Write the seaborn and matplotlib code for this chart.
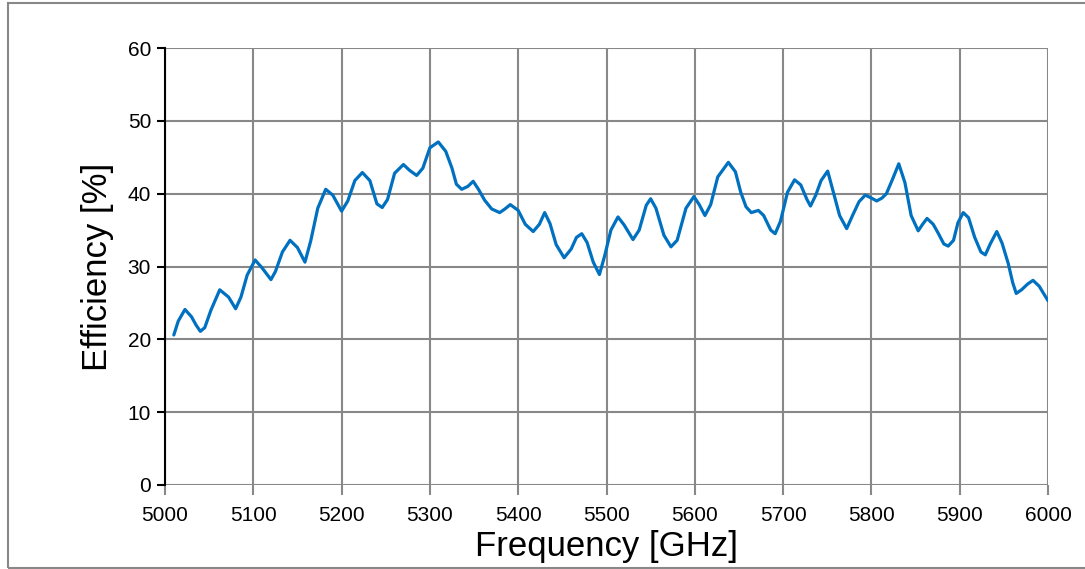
import matplotlib
matplotlib.use("Agg")
import matplotlib.pyplot as plt
import seaborn as sns
import pandas as pd
from matplotlib.patches import Rectangle

freq = [5010, 5015, 5022.6, 5030, 5035, 5040, 5045, 5052, 5062, 5072, 5080, 5086, 5093,
        5102, 5110, 5120, 5125, 5133, 5141.6, 5150, 5158.5, 5165, 5173, 5182, 5190, 5200,
        5207, 5215, 5223.5, 5232, 5240, 5246, 5252, 5260, 5270, 5277, 5285, 5292, 5300,
        5309.5, 5318, 5325, 5330, 5336, 5343, 5349, 5355, 5362, 5370, 5379, 5385, 5391,
        5400, 5408, 5417, 5424, 5430, 5436, 5443, 5452, 5460, 5466, 5472, 5478, 5485,
        5492, 5498, 5505, 5513, 5520, 5530, 5537, 5545, 5550, 5556, 5565, 5573, 5580,
        5590, 5599, 5605, 5611.5, 5618, 5626, 5638, 5646, 5652, 5658, 5664, 5672, 5678,
        5686, 5691, 5697, 5705, 5713, 5720, 5727, 5731, 5737, 5743, 5750.5, 5756, 5764,
        5772, 5779, 5786, 5793, 5800, 5806, 5812, 5817, 5824, 5831, 5838, 5845, 5853,
        5858, 5863, 5870, 5876, 5882, 5887, 5893, 5898, 5904, 5910, 5917, 5924, 5929,
        5935, 5942, 5948, 5955, 5960, 5964, 5970, 5977, 5983, 5990, 5995, 6000]
efficiency = [20.6, 22.5, 24.1, 23.1, 22.0, 21.1, 21.6, 24.0, 26.8, 25.8, 24.2, 25.8, 28.8,
              30.9, 29.8, 28.2, 29.3, 32.0, 33.6, 32.6, 30.6, 33.5, 38.0, 40.6, 39.8, 37.6,
              39.0, 41.8, 42.9, 41.8, 38.6, 38.1, 39.2, 42.8, 44.0, 43.2, 42.5, 43.5, 46.3,
              47.1, 45.8, 43.5, 41.3, 40.6, 41.0, 41.7, 40.6, 39.1, 37.9, 37.4, 37.9, 38.5,
              37.7, 35.8, 34.8, 35.8, 37.4, 35.9, 33.0, 31.2, 32.4, 34.0, 34.5, 33.3, 30.6,
              28.9, 31.5, 35.0, 36.8, 35.7, 33.7, 35.0, 38.4, 39.3, 38.0, 34.3, 32.7, 33.6,
              38.0, 39.6, 38.5, 37.0, 38.5, 42.3, 44.3, 43.0, 40.2, 38.2, 37.4, 37.7, 37.0,
              35.0, 34.5, 36.2, 40.2, 41.9, 41.2, 39.2, 38.3, 39.8, 41.8, 43.1, 40.6, 37.0,
              35.2, 37.1, 38.9, 39.8, 39.4, 39.0, 39.4, 40.0, 42.0, 44.1, 41.5, 37.0, 34.9,
              35.8, 36.6, 35.8, 34.5, 33.1, 32.8, 33.6, 36.0, 37.4, 36.7, 34.0, 32.0, 31.6,
              33.2, 34.8, 33.2, 30.4, 27.8, 26.3, 26.8, 27.6, 28.1, 27.3, 26.3, 25.3]

x_ticks = list(range(5000, 6001, 100))
y_ticks = list(range(0, 61, 10))
x_label = "Frequency [GHz]"
y_label = "Efficiency [%]"

sns.set_theme(style="white")
plt.rcParams['font.family'] = ['Liberation Sans', 'DejaVu Sans']

fig = plt.figure(figsize=(10.85, 5.69), dpi=100)
ax = fig.add_axes([165/1085, 1 - 485/569, (1048 - 165)/1085, (485 - 48)/569])

df = pd.DataFrame({"f": freq, "e": efficiency})
sns.lineplot(data=df, x="f", y="e", ax=ax, color="#0070C0", linewidth=2.3, sort=True)

ax.set_xlim(5000, 6000)
ax.set_ylim(0, 60)
ax.set_xticks(x_ticks)
ax.set_yticks(y_ticks)
ax.set_xticklabels([str(t) for t in x_ticks], fontsize=15, color="black")
ax.set_yticklabels([str(t) for t in y_ticks], fontsize=15, color="black")

ax.grid(True, color="#888888", linewidth=1.5)
ax.set_axisbelow(True)
for s in ["top", "right", "bottom"]:
    ax.spines[s].set_visible(False)
ax.spines["left"].set_color("black")
ax.spines["left"].set_linewidth(1.5)

ax.tick_params(axis="x", direction="out", length=7, width=1.5, color="#888888", pad=8, bottom=True)
ax.tick_params(axis="y", direction="out", length=6, width=1.5, color="black", pad=4, left=True)

ax.set_xlabel(x_label, fontsize=25, color="black", labelpad=4)
ax.set_ylabel(y_label, fontsize=25, color="black", labelpad=10)

fig.patches.append(Rectangle((8/1085, 1 - 568/569), 1.2, (568 - 3)/569,
                             transform=fig.transFigure, fill=False,
                             edgecolor="#888888", linewidth=1.5))

fig.savefig("out.png", dpi=100, facecolor="white")
